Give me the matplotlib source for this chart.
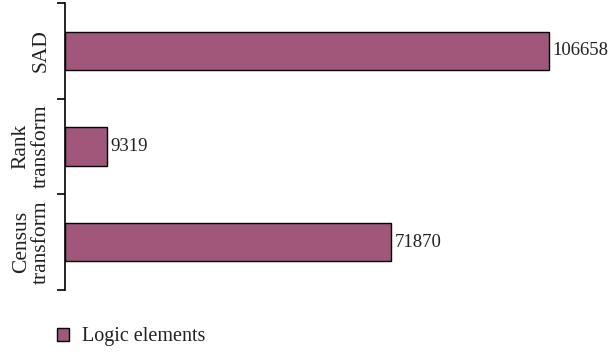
import matplotlib.pyplot as plt
from matplotlib.patches import Patch

# logic element usage per matching cost
methods = ["SAD", "Rank\ntransform", "Census\ntransform"]
logic_elements = [106658, 9319, 71870]

bar_color = "#a0577a"
text_color = "#231f20"

plt.rcParams['font.family'] = ['Liberation Serif', 'DejaVu Serif']

fig = plt.figure(figsize=(6.16, 3.56), dpi=100)
ax = fig.add_axes([65 / 616, 1 - 290 / 356, 535 / 616, 287 / 356])

ypos = list(range(len(methods)))
ax.barh(ypos, logic_elements, height=0.4, color=bar_color,
        edgecolor="black", linewidth=1.0)
for y, v in zip(ypos, logic_elements):
    ax.annotate(str(v), (v, y), xytext=(2.5, 0), textcoords="offset points",
                va="center", ha="left", fontsize=13.5, color=text_color)

ax.set_xlim(0, 106658 * 535 / 484)
ax.set_ylim(2.5, -0.5)

# tick marks sit between categories, labels at the centres
ax.set_yticks([-0.5, 0.5, 1.5, 2.5])
ax.set_yticklabels([])
ax.set_yticks(ypos, minor=True)
ax.set_yticklabels(methods, minor=True, rotation=90, va="center",
                   multialignment="center", fontsize=15.5, color=text_color,
                   linespacing=1.1)
ax.tick_params(axis="y", which="major", length=6, width=1.2)
ax.tick_params(axis="y", which="minor", length=0, pad=10)
ax.set_xticks([])
for s in ("top", "right", "bottom"):
    ax.spines[s].set_visible(False)
ax.spines["left"].set_linewidth(1.2)

handle = Patch(facecolor=bar_color, edgecolor="black", linewidth=1.0)
fig.legend([handle], ["Logic elements"], loc="center left",
           bbox_to_anchor=(57 / 616, 1 - 337 / 356), frameon=False,
           fontsize=14.5, borderpad=0, borderaxespad=0,
           handlelength=0.6, handleheight=0.6, handletextpad=0.65,
           labelcolor=text_color)

fig.savefig("out.png", dpi=100)
